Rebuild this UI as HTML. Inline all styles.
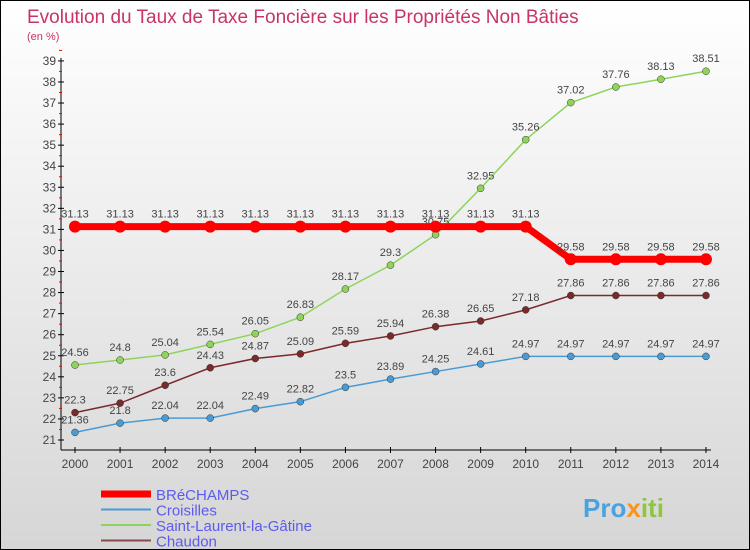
<!DOCTYPE html>
<html><head><meta charset="utf-8"><style>
body{margin:0}
#wrap{position:relative;width:748px;height:548px;border:1px solid #000;background:linear-gradient(#fff,#d6d6d6);font-family:"Liberation Sans",sans-serif;overflow:hidden}
</style></head><body>
<div id="wrap">
<svg id="chart" width="748" height="548">
<text x="26" y="22" font-size="19" fill="#c8336a">Evolution du Taux de Taxe Foncière sur les Propriétés Non Bâties</text>
<text x="26" y="39" font-size="11" fill="#c8336a">(en %)</text>
<g id="axes"></g><g id="series"></g><g id="legend"></g>
<text x="582" y="516" font-size="26" font-weight="bold" fill="#4aa3df">Pro<tspan fill="#f7941d">x</tspan><tspan fill="#8dc63f">iti</tspan></text>
</svg>
</div>
<script>
const years=[2000,2001,2002,2003,2004,2005,2006,2007,2008,2009,2010,2011,2012,2013,2014];
const yTicks=[21,22,23,24,25,26,27,28,29,30,31,32,33,34,35,36,37,38,39];
const names=["BRéCHAMPS","Croisilles","Saint-Laurent-la-Gâtine","Chaudon"];
const brechamps=[31.13,31.13,31.13,31.13,31.13,31.13,31.13,31.13,31.13,31.13,31.13,29.58,29.58,29.58,29.58];
const croisilles=[21.36,21.8,22.04,22.04,22.49,22.82,23.5,23.89,24.25,24.61,24.97,24.97,24.97,24.97,24.97];
const saintLaurent=[24.56,24.8,25.04,25.54,26.05,26.83,28.17,29.3,30.75,32.95,35.26,37.02,37.76,38.13,38.51];
const chaudon=[22.3,22.75,23.6,24.43,24.87,25.09,25.59,25.94,26.38,26.65,27.18,27.86,27.86,27.86,27.86];
const NS="http://www.w3.org/2000/svg";
const X=i=>74+i*45.07;
const Y=v=>439-(v-21)*21.06;
function mk(t,a,p){const e=document.createElementNS(NS,t);for(const k in a)e.setAttribute(k,a[k]);p.appendChild(e);return e;}
const ax=document.getElementById('axes');
let l=mk('line',{x1:60,y1:Y(39)-3,x2:60,y2:449,stroke:'#000'},ax);

l=mk('line',{x1:60,y1:449,x2:X(14)+5,y2:449,stroke:'#000'},ax);

yTicks.forEach(v=>{mk('line',{x1:57,y1:Y(v),x2:63,y2:Y(v),stroke:'#000'},ax);
 mk('line',{x1:58,y1:Y(v+0.5),x2:61,y2:Y(v+0.5),stroke:'#f00'},ax);
 const t=mk('text',{x:55,y:Y(v)+4,'font-size':12,fill:'#444','text-anchor':'end'},ax);t.textContent=v;
 });
years.forEach((yr,i)=>{mk('line',{x1:X(i),y1:446,x2:X(i),y2:452,stroke:'#000'},ax);
 const t=mk('text',{x:X(i),y:467,'font-size':12,fill:'#444','text-anchor':'middle'},ax);t.textContent=yr;
 });
const sg=document.getElementById('series');
function draw(vals,color,w,r,name){
 const g=mk('g',{},sg);
 mk('polyline',{points:vals.map((v,i)=>X(i)+','+Y(v)).join(' '),fill:'none',stroke:color,'stroke-width':w},g);
 vals.forEach((v,i)=>{const c=mk('circle',{cx:X(i),cy:Y(v),r:r,fill:color,stroke:r<5?'#333':'none','stroke-width':0.5},g);
  
  const t=mk('text',{x:X(i),y:Y(v)-9,'font-size':11,fill:'#444','text-anchor':'middle'},g);t.textContent=v;
  });
}
draw(croisilles,'#4a9bd4',1.5,3.5,'series-croisilles');
draw(saintLaurent,'#8fd45a',1.5,3.5,'series-saint-laurent');
draw(chaudon,'#7a2a2a',1.5,3.5,'series-chaudon');
draw(brechamps,'#f00',7,6,'series-brechamps');
const lg=document.getElementById('legend');
const lc=['#f00','#4a9bd4','#8fd45a','#8b4a4a'],lw=[7,2,2,2];
names.forEach((n,i)=>{const g=mk('g',{},lg);
 const y=493+i*15.5;mk('line',{x1:100,y1:y,x2:150,y2:y,stroke:lc[i],'stroke-width':lw[i]},g);
 const t=mk('text',{x:155,y:y+6,'font-size':15,fill:'#5b5bf0'},g);t.textContent=n;});
</script>
</body></html>
